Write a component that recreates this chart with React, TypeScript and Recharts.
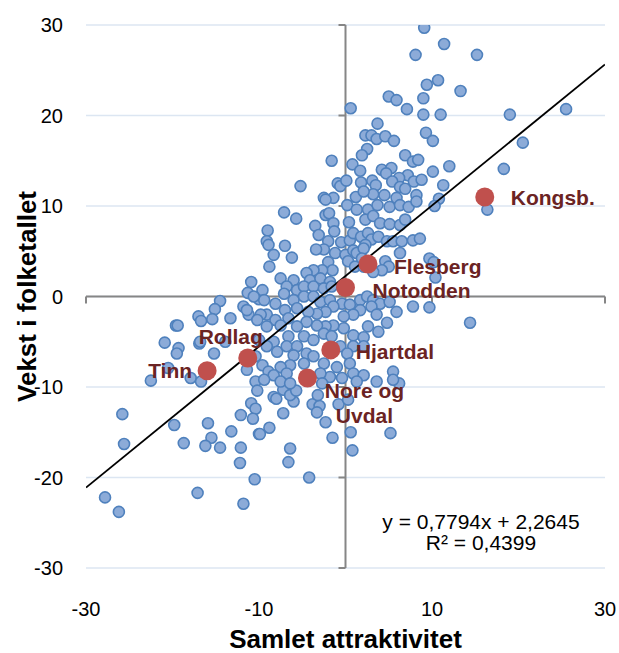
import { ScatterChart, Scatter, XAxis, YAxis, CartesianGrid, ReferenceLine } from "recharts";

const xTicks = [-30, -10, 10, 30];
const yTicks = [-30, -20, -10, 0, 10, 20, 30];

// trend line from the fitted equation shown in the chart
const slope = 0.7794;
const intercept = 2.2645;
const equationText = "y = 0,7794x + 2,2645";
const r2Text = "R² = 0,4399";

// all municipalities (x = samlet attraktivitet, y = vekst i folketallet)
const municipalities: [number, number][] = [
  [9.1, 29.7], [8.1, 26.7], [9.4, 23.4], [5.0, 22.1], [5.9, 21.7], [9.0, 21.9], [7.1, 20.7], [0.6, 20.8],
  [9.0, 20.1], [3.7, 19.1], [2.3, 17.8], [3.0, 17.8], [3.6, 17.4], [4.6, 17.7], [5.6, 17.2], [9.3, 18.1],
  [10.1, 17.2], [2.5, 16.3], [1.9, 15.6], [6.9, 15.6], [7.8, 14.9], [8.4, 15.1], [-1.6, 15.0], [0.8, 14.6],
  [1.7, 13.9], [4.2, 14.0], [5.3, 14.2], [4.7, 13.6], [7.2, 13.4], [6.2, 13.1], [7.9, 12.7], [8.8, 12.9],
  [10.1, 13.8], [-5.2, 12.2], [-0.9, 12.5], [-0.6, 12.2], [0.1, 12.8], [1.8, 12.6], [3.1, 12.8], [3.5, 12.3],
  [5.4, 12.7], [6.3, 12.1], [6.9, 11.9], [8.2, 11.2], [-2.5, 10.9], [-1.4, 10.9], [1.2, 11.0], [3.2, 11.3],
  [4.5, 11.2], [5.9, 10.9], [2.1, 11.6],
  [11.4, 27.9], [15.2, 26.7], [10.7, 23.9], [13.3, 22.7], [11.0, 20.1], [19.0, 20.1], [25.5, 20.7],
  [20.5, 17.0], [12.0, 14.4], [18.3, 14.1], [11.3, 12.3], [10.8, 10.8],
  [16.4, 9.6], [10.3, 10.0], [9.7, 4.2], [10.2, 3.8], [10.4, 2.1], [9.7, -1.2], [14.4, -2.9],
  [-10.9, 1.6], [-11.3, 0.4], [-10.0, -0.3], [-14.5, -0.5], [-15.1, -1.4], [-11.8, -1.1], [-11.2, -2.0],
  [-11.4, -1.5], [-17.0, -2.2], [-16.7, -2.7], [-15.4, -2.5], [-13.3, -2.4], [-19.6, -3.2], [-19.4, -3.2],
  [-20.9, -5.1], [-19.3, -5.7], [-19.5, -6.3], [-16.9, -5.2], [-16.8, -5.0], [-15.2, -6.3], [-20.5, -7.9],
  [-17.9, -9.0], [-16.7, -9.4], [-22.5, -9.3], [-11.4, -8.1], [-13.9, -5.0], [-10.4, -9.4],
  [-25.8, -13.0], [-25.6, -16.3], [-19.8, -14.2], [-18.7, -16.2], [-15.9, -14.0], [-15.5, -15.6],
  [-16.2, -16.5], [-14.5, -16.7], [-13.2, -14.9], [-12.1, -13.1], [-10.9, -11.8], [-10.4, -12.4],
  [-10.7, -13.5], [-10.2, -10.4], [-12.1, -16.7], [-12.2, -18.4], [-10.0, -15.2], [-10.5, -20.2],
  [-27.8, -22.2], [-26.2, -23.8], [-17.1, -21.7], [-11.8, -22.9],
  [0.6, -15.0], [5.2, -15.1], [0.8, -17.0], [-1.5, -15.6], [-6.4, -16.8], [-6.6, -18.3], [-4.2, -20.0],
  [-8.8, -14.5], [-9.9, -15.2], [-7.2, -12.9], [-2.3, -13.9], [-6.0, -11.6], [-8.3, -11.1], [-8.0, -11.3],
  [-7.2, -10.3], [-6.4, -10.9], [-5.7, -10.4], [-3.8, -11.9], [-3.0, -12.1], [-3.3, -12.8], [-3.2, -10.9],
  [-0.8, -11.9], [0.3, -11.4], [6.2, -9.6],
  [-2.3, 10.7], [0.2, 10.1], [1.3, 9.6], [2.6, 9.6], [3.7, 10.1], [5.1, 9.9], [6.3, 10.1], [7.3, 9.9],
  [8.2, 10.5], [-7.1, 9.3], [-5.7, 8.6], [-2.3, 9.0], [-1.9, 9.2], [0.4, 8.2], [2.3, 8.5], [3.2, 8.9],
  [4.0, 8.1], [5.1, 8.0], [6.3, 7.9], [6.9, 8.5], [-9.0, 7.3], [-9.1, 6.1], [-8.9, 5.7], [-7.0, 5.6],
  [-6.2, 4.3], [-8.3, 4.6], [-8.8, 3.3], [-7.5, 2.0], [-3.5, 7.8], [-3.1, 6.8], [-1.4, 8.1], [-1.3, 7.2],
  [-2.0, 6.1], [-0.5, 6.0], [-2.5, 5.2], [-3.4, 5.2], [-1.2, 4.8], [0.0, 4.6], [0.5, 6.2], [0.9, 7.0],
  [1.8, 6.6], [2.6, 7.0], [3.0, 6.3], [2.3, 5.7], [3.8, 6.6], [4.8, 6.1], [5.5, 6.1], [6.5, 6.1],
  [7.8, 6.2], [8.6, 6.4], [0.9, 5.1], [1.3, 4.8], [2.1, 5.3], [1.9, 4.2], [0.3, 3.9], [1.1, 3.3],
  [2.1, 3.3], [-2.0, 3.8], [-1.5, 2.9], [-2.7, 2.9], [-3.7, 2.9], [-4.5, 2.6], [-4.1, 1.8], [-2.9, 2.0],
  [-1.8, 1.6], [4.6, 3.9], [5.0, 3.3], [6.3, 4.8], [4.2, 2.9], [3.2, 2.7], [-6.0, 1.8], [-6.8, 1.1],
  [-7.1, 0.3], [-9.6, 0.7], [-9.4, -0.4], [-10.6, 0.0], [-5.6, 0.7], [-4.8, 1.1], [-3.7, 1.1], [-2.5, 0.9],
  [-1.6, 1.1], [-8.1, -0.8], [-9.1, -2.0], [-9.8, -2.0], [-10.2, -2.6], [-8.1, -2.6], [-7.0, -1.5],
  [-6.0, -0.4], [-4.8, 0.0], [-3.7, 0.0], [-2.9, -0.6], [-1.8, -0.4], [-0.4, -0.8], [0.5, -0.9], [1.7, -0.4],
  [2.5, 0.0], [3.2, -0.4], [4.0, -0.8], [3.0, -1.1], [1.7, -1.5], [0.9, -2.0], [-0.2, -2.2], [-1.4, -1.1],
  [-2.3, -1.7], [-3.3, -1.9], [-4.3, -1.7], [-5.6, -1.3], [-6.6, -2.4], [-7.5, -3.2], [-9.1, -3.3],
  [5.1, -0.6], [5.9, -1.7], [7.8, -1.1], [3.6, -2.0], [2.6, -3.3], [3.8, -3.9], [4.8, -2.9], [0.9, -4.3],
  [2.1, -4.5], [-0.2, -3.5], [-1.4, -3.2], [-2.3, -3.3], [-3.3, -3.2], [-4.5, -2.8], [-5.6, -3.3],
  [-6.6, -4.4], [-8.3, -5.0], [-9.1, -5.5], [-10.0, -4.8], [-10.4, -6.6], [-9.6, -7.6], [-8.9, -8.3],
  [-7.9, -6.1], [-6.8, -5.5], [-5.6, -5.5], [-4.8, -4.4], [-3.7, -4.8], [-2.5, -4.1], [-1.6, -4.4],
  [-4.5, -6.3], [-6.0, -6.5], [-3.7, -6.6], [-4.8, -7.4], [-6.4, -7.6], [-7.5, -7.8], [0.9, -5.5],
  [2.1, -5.5], [-0.6, -5.5], [0.2, -6.3], [0.5, -7.4], [-1.0, -7.8], [-2.5, -7.4], [-1.8, -8.9],
  [-2.9, -8.5], [-6.8, -8.5], [-8.3, -8.7], [-9.4, -9.2], [5.5, -8.3], [5.5, -9.2], [3.6, -9.4],
  [0.9, -8.5], [2.1, -8.7], [1.3, -9.4], [-0.4, -9.0], [-2.7, -9.6], [-7.5, -9.4], [-6.4, -9.6],
];

// highlighted municipalities
const towns = ["Tinn", "Rollag", "Nore og Uvdal", "Hjartdal", "Notodden", "Flesberg", "Kongsb."];
const townX = [-16.0, -11.3, -4.4, -1.7, 0.0, 2.6, 16.1];
const townY = [-8.2, -6.8, -9.0, -5.9, 1.0, 3.6, 11.0];

const FONT = "'Liberation Sans', Arial, sans-serif";
const AXIS_GRAY = "#868686";
const LABEL_RED = "#6b2323";

const blueData = municipalities.map(([x, y]) => ({ x, y }));
const townData = towns.map((name, i) => ({ name, x: townX[i], y: townY[i] }));
const trendData = [-30, 30].map((x) => ({ x, y: slope * x + intercept }));

// where each town label sits relative to its dot
const labelPlacement: Record<string, { dx: number; dy: number; anchor: string; lines?: string[] }> = {
  Tinn: { dx: -15, dy: 0, anchor: "end" },
  Rollag: { dx: -17, dy: -22, anchor: "middle" },
  "Nore og Uvdal": { dx: 57, dy: 13, anchor: "middle", lines: ["Nore og", "Uvdal"] },
  Hjartdal: { dx: 25, dy: 2, anchor: "start" },
  Notodden: { dx: 27, dy: 3, anchor: "start" },
  Flesberg: { dx: 26, dy: 3, anchor: "start" },
  "Kongsb.": { dx: 26, dy: 1, anchor: "start" },
};

const BlueDot = (props: any) => (
  <circle cx={props.cx} cy={props.cy} r={5.5} fill="#8cabd8" stroke="#4f81bd" strokeWidth={1.6} />
);

const TownDot = (props: any) => {
  const p = labelPlacement[props.payload.name];
  const lines = p.lines ?? [props.payload.name];
  return (
    <g>
      <circle cx={props.cx} cy={props.cy} r={9.5} fill="#c0504d" />
      {lines.map((line, i) => (
        <text
          key={i}
          x={props.cx + p.dx}
          y={props.cy + p.dy + i * 25}
          textAnchor={p.anchor as any}
          dominantBaseline="central"
          fontFamily={FONT}
          fontWeight="bold"
          fontSize={21}
          fill={LABEL_RED}
        >
          {line}
        </text>
      ))}
    </g>
  );
};

// vertical axis through x = 0 with small ticks pointing left
const VerticalAxisShape = (props: any) => {
  const top = Math.min(props.y1, props.y2);
  const bottom = Math.max(props.y1, props.y2);
  return (
    <g>
      <line x1={props.x1} y1={top} x2={props.x1} y2={bottom} stroke={AXIS_GRAY} strokeWidth={2} />
      {yTicks.map((v) => {
        const ty = bottom - ((v + 30) / 60) * (bottom - top);
        return <line key={v} x1={props.x1 - 7} y1={ty} x2={props.x1} y2={ty} stroke={AXIS_GRAY} strokeWidth={2} />;
      })}
    </g>
  );
};

// horizontal axis through y = 0 with small ticks pointing down
const HorizontalAxisShape = (props: any) => {
  const left = Math.min(props.x1, props.x2);
  const right = Math.max(props.x1, props.x2);
  return (
    <g>
      <line x1={left} y1={props.y1} x2={right} y2={props.y1} stroke={AXIS_GRAY} strokeWidth={2} />
      {xTicks.map((v) => {
        const tx = left + ((v + 30) / 60) * (right - left);
        return <line key={v} x1={tx} y1={props.y1} x2={tx} y2={props.y1 + 7} stroke={AXIS_GRAY} strokeWidth={2} />;
      })}
    </g>
  );
};

const App = () => {
  return (
    <div style={{ position: "relative", width: 619, height: 653, fontFamily: FONT }}>
      <style>{"body { margin: 0; }"}</style>
      <ScatterChart width={619} height={653} margin={{ top: 25, right: 14, left: 0, bottom: 0 }}>
        <CartesianGrid horizontal vertical={false} stroke="#dce6f2" strokeWidth={1.5} />
        <XAxis
          type="number"
          dataKey="x"
          domain={[-30, 30]}
          ticks={xTicks}
          allowDataOverflow
          axisLine={false}
          tickLine={false}
          tickSize={0}
          tickMargin={34}
          height={85}
          tick={{ fontSize: 20, fill: "#000", fontFamily: FONT }}
          label={{
            content: ({ viewBox }: any) => (
              <text
                x={viewBox.x + viewBox.width / 2}
                y={viewBox.y + 71}
                textAnchor="middle"
                dominantBaseline="central"
                fontFamily={FONT}
                fontWeight="bold"
                fontSize={26}
                fill="#000"
              >
                Samlet attraktivitet
              </text>
            ),
          }}
        />
        <YAxis
          type="number"
          dataKey="y"
          domain={[-30, 30]}
          ticks={yTicks}
          allowDataOverflow
          axisLine={false}
          tickLine={false}
          tickSize={0}
          tickMargin={23}
          width={86}
          tick={{ fontSize: 20, fill: "#000", fontFamily: FONT }}
          label={{
            content: ({ viewBox }: any) => {
              const cx = viewBox.x + 27;
              const cy = viewBox.y + viewBox.height / 2;
              return (
                <text
                  x={cx}
                  y={cy}
                  transform={`rotate(-90, ${cx}, ${cy})`}
                  textAnchor="middle"
                  dominantBaseline="central"
                  fontFamily={FONT}
                  fontWeight="bold"
                  fontSize={26}
                  fill="#000"
                >
                  Vekst i folketallet
                </text>
              );
            },
          }}
        />
        <ReferenceLine x={0} shape={VerticalAxisShape} />
        <ReferenceLine y={0} shape={HorizontalAxisShape} />
        <Scatter data={blueData} shape={BlueDot} isAnimationActive={false} />
        <Scatter
          data={trendData}
          line={{ stroke: "#000", strokeWidth: 1.8 }}
          shape={() => null}
          isAnimationActive={false}
        />
        <Scatter data={townData} shape={TownDot} isAnimationActive={false} />
      </ScatterChart>
      <div
        style={{
          position: "absolute",
          left: 371,
          width: 220,
          top: 511,
          textAlign: "center",
          fontSize: 21,
          lineHeight: "21px",
          color: "#000",
        }}
      >
        <div>{equationText}</div>
        <div>{r2Text}</div>
      </div>
    </div>
  );
};

export default App;
